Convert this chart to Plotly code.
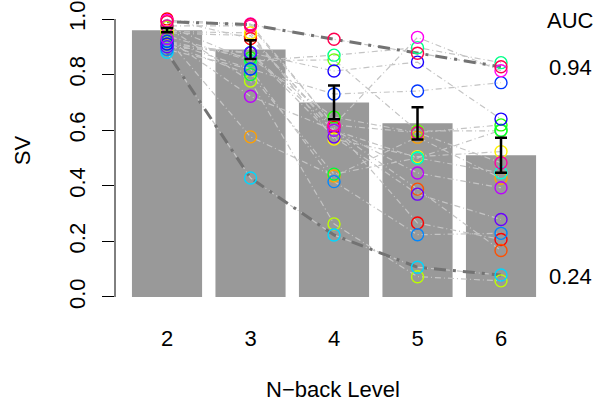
import plotly.graph_objects as go

levels = [2, 3, 4, 5, 6]
level_labels = ["2", "3", "4", "5", "6"]

# Group means and standard errors (bars + error bars)
mean_sv = [0.96, 0.89, 0.70, 0.625, 0.51]
se_sv = [0.008, 0.034, 0.061, 0.058, 0.063]

# Individual subjects' SV per N-back level (2..6)
subj_red = [1.00, 0.93, 0.61, 0.266, 0.207]
subj_orangered = [0.95, 0.94, 0.60, 0.388, 0.167]
subj_orange = [0.93, 0.576, 0.435, 0.575, 0.427]
subj_yellow = [0.955, 0.95, 0.568, 0.505, 0.523]
subj_yellowgreen = [0.97, 0.777, 0.263, 0.073, 0.058]
subj_chartreuse = [0.94, 0.85, 0.853, 0.597, 0.598]
subj_green = [0.92, 0.86, 0.647, 0.591, 0.619]
subj_green2 = [0.91, 0.80, 0.442, 0.50, 0.60]
subj_springgreen = [0.975, 0.85, 0.87, 0.897, 0.843]
subj_aquamarine = [0.90, 0.88, 0.60, 0.50, 0.447]
subj_cyan = [0.88, 0.428, 0.223, 0.107, 0.079]
subj_azure = [0.89, 0.82, 0.415, 0.224, 0.229]
subj_azureblue = [0.92, 0.82, 0.73, 0.741, 0.771]
subj_blue = [0.91, 0.878, 0.813, 0.845, 0.64]
subj_indigo = [0.90, 0.878, 0.576, 0.37, 0.279]
subj_purple = [0.93, 0.722, 0.60, 0.446, 0.393]
subj_magenta = [0.995, 0.982, 0.619, 0.934, 0.814]
subj_pink = [0.975, 0.975, 0.619, 0.591, 0.483]
subj_rose = [0.99, 0.98, 0.927, 0.877, 0.828]

subjects = [subj_red, subj_orangered, subj_orange, subj_yellow, subj_yellowgreen,
            subj_chartreuse, subj_green, subj_green2, subj_springgreen, subj_aquamarine,
            subj_cyan, subj_azure, subj_azureblue, subj_blue, subj_indigo,
            subj_purple, subj_magenta, subj_pink, subj_rose]
subject_colors = ["#FF0000", "#FF5000", "#FFA100", "#FFF200", "#BCFF00",
                  "#6BFF00", "#1AFF00", "#00FF36", "#00FF87", "#00FFD7",
                  "#00D7FF", "#0087FF", "#0036FF", "#1A00FF", "#6B00FF",
                  "#BC00FF", "#FF00F2", "#FF00A1", "#FF0050"]

# Subjects with the highest and lowest AUC
best_subject = subj_rose
worst_subject = subj_cyan
auc_labels = ["0.94", "0.24"]

FONT = "Liberation Sans, Helvetica, Arial, sans-serif"
FS = 22

fig = go.Figure()

fig.add_trace(go.Bar(x=levels, y=mean_sv, width=0.84,
                     marker=dict(color="#999999", line=dict(width=0)),
                     showlegend=False, hoverinfo="skip"))

for s in subjects:
    fig.add_trace(go.Scatter(x=levels, y=s, mode="lines",
                             line=dict(color="#C4C4C4", width=1.2, dash="1px,3px,6px,3px"),
                             showlegend=False, hoverinfo="skip"))

for s in [best_subject, worst_subject]:
    fig.add_trace(go.Scatter(x=levels, y=s, mode="lines",
                             line=dict(color="#737373", width=3, dash="3px,7px,12px,7px"),
                             showlegend=False, hoverinfo="skip"))

for s, c in zip(subjects, subject_colors):
    fig.add_trace(go.Scatter(x=levels, y=s, mode="markers",
                             marker=dict(symbol="circle-open", size=12, color=c,
                                         line=dict(width=1.4, color=c)),
                             showlegend=False))

fig.add_trace(go.Scatter(x=levels, y=mean_sv, mode="markers",
                         marker=dict(size=1, opacity=0),
                         error_y=dict(type="data", array=se_sv, color="black",
                                      thickness=2.5, width=6),
                         showlegend=False, hoverinfo="skip"))

fig.add_shape(type="line", xref="paper", yref="y", x0=0, x1=0, y0=0, y1=1,
              line=dict(color="black", width=1))

def note(text, x, y, yref="y", angle=0):
    fig.add_annotation(text=text, xref="paper", yref=yref, x=x, y=y,
                       xanchor="center", yanchor="middle", textangle=angle,
                       showarrow=False, font=dict(size=FS, color="black", family=FONT))

note("AUC", 1.0706, 0.996)
note(auc_labels[0], 1.0706, 0.824)
note(auc_labels[1], 1.0706, 0.072)
note("SV", -0.2188, 0.525, yref="paper", angle=-90)
note("N\u2212back Level", 0.513, -0.288, yref="paper")

fig.update_layout(
    width=598, height=402,
    margin=dict(l=115, r=58, t=10, b=97),
    plot_bgcolor="white", paper_bgcolor="white",
    font=dict(family=FONT, size=FS, color="black"),
    xaxis=dict(range=[1.377, 6.467], tickvals=levels, ticktext=level_labels,
               ticks="", showgrid=False, zeroline=False, showline=False, automargin=False,
               ticklabelstandoff=18, tickfont=dict(size=FS)),
    yaxis=dict(range=[-0.0288, 1.0324], tickvals=[0, 0.2, 0.4, 0.6, 0.8, 1.0],
               ticktext=["0.0", "0.2", "0.4", "0.6", "0.8", "1.0"],
               tickangle=-90, ticks="outside", ticklen=12, tickwidth=1, tickcolor="black",
               showgrid=False, zeroline=False, showline=False, automargin=False,
               ticklabelstandoff=8, tickfont=dict(size=FS)),
)

fig.write_html("out.html", config={"displayModeBar": False},
               post_script="document.body.style.margin='0';document.body.style.overflow='hidden';")
